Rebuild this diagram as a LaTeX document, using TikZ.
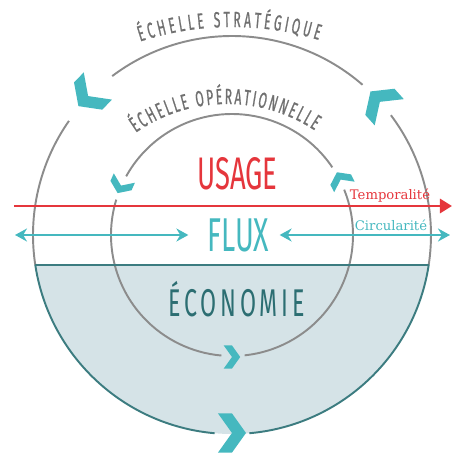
\documentclass[tikz,border=0pt]{standalone}
\usepackage{fontspec}
\usetikzlibrary{arrows.meta,decorations.text}
\newfontfamily\headfont[FakeStretch=0.6]{Fira Sans}
\newfontfamily\ecofont[FakeStretch=0.6,LetterSpace=10]{Fira Sans}
\newfontfamily\arcfont[FakeStretch=0.55,FakeBold=0.8]{Fira Sans}
\newfontfamily\labelfont{DejaVu Serif}
\definecolor{usagered}{HTML}{E5363C}
\definecolor{fluxcyan}{HTML}{45B8BF}
\definecolor{ecoteal}{HTML}{2C6E72}
\definecolor{ecoline}{HTML}{3C7C80}
\definecolor{ecofill}{HTML}{D5E3E7}
\definecolor{ringgrey}{HTML}{8C8C8C}
\definecolor{textgrey}{HTML}{707070}

\begin{document}
\begin{tikzpicture}[
  ring/.style={draw=ringgrey, line width=1.1pt},
  ecoring/.style={draw=ecoline, line width=1.1pt},
  chev/.style={fill=fluxcyan},
  tline/.style={draw=usagered, line width=1.6pt, -{Triangle[length=2.4mm,width=2.8mm]}},
  cline/.style={draw=fluxcyan, line width=1.1pt, >={Stealth[length=2.4mm,width=2.6mm]}, <->},
  bigword/.style={inner sep=0pt, anchor=base}
]
\useasboundingbox (-4.64,-4.36) rectangle (4.44,4.70);

\fill [ecofill] (-8.67:3.98) arc (-8.67:-171.33:3.98) -- cycle;

% outer ring, gaps for the chevrons
\foreach \a/\b in {-8.67/37, 49/127, 145/188.67}
  \draw [ring] (\a:3.98) arc (\a:\b:3.98);
\foreach \a/\b in {188.67/265, 275/351.33}
  \draw [ecoring] (\a:3.98) arc (\a:\b:3.98);
% inner ring
\foreach \a/\b in {34/151, 163/265, 276/382}
  \draw [ring] (\a:2.42) arc (\a:\b:2.42);

\draw [ecoline, line width=1pt] (188.67:3.98) -- (-8.67:3.98);

\foreach \a/\r/\s in {136/4.0/.56, 42/3.98/.56, 270/3.96/.56, 156/2.43/.33, 27/2.44/.33, 270/2.44/.33}
  \fill [chev, shift={(\a:\r)}, rotate=\a+90, scale=\s] (-.5,.7) -- (0,.7) -- (.5,0) -- (0,-.7) -- (-.5,-.7) -- (0,0) -- cycle;

\path [decorate, decoration={text along path, text align={fit to path}, text color=textgrey,
  text={|\arcfont\fontsize{12.5}{12.5}\selectfont|ÉCHELLE STRATÉGIQUE}}]
  ([shift={(0,-1.78)}]108:5.94) arc (108:73:5.94);
\path [decorate, decoration={text along path, text align={fit to path}, text color=textgrey,
  text={|\arcfont\fontsize{12.5}{12.5}\selectfont|ÉCHELLE OPÉRATIONNELLE}}]
  ([shift={(-0.1,-0.56)}]125:3.18) arc (125:56.5:3.18);

\node [bigword, text=usagered, font=\headfont\fontsize{26}{26}\selectfont] (usage) at (0.11,0.9) {USAGE};
\node [inner sep=0pt, text=fluxcyan, font=\headfont\fontsize{27}{27}\selectfont] (flux) at (0.13,0) {FLUX};
\node [bigword, text=ecoteal, font=\ecofont\fontsize{22}{22}\selectfont] (eco) at (0.09,-1.64) {ÉCONOMIE};

\node [text=usagered, font=\labelfont\fontsize{7.5}{7.5}\selectfont, anchor=base] (temp) at (3.16,0.7) {Temporalité};
\node [text=fluxcyan, font=\labelfont\fontsize{7.5}{7.5}\selectfont, anchor=base] (circ) at (3.18,0.08) {Circularité};

\coordinate (tstart) at (-4.36,0.58);
\coordinate (tend) at (4.40,0.58);
\draw [tline] (tstart) -- (tend);

\coordinate (cl) at (-4.34,0);
\coordinate (cr) at (4.36,0);
\draw [cline, shorten >=0.38cm] (cl) -- (flux.west);
\draw [cline, shorten <=0.2cm] (flux.east) -- (cr);

\end{tikzpicture}
\end{document}
